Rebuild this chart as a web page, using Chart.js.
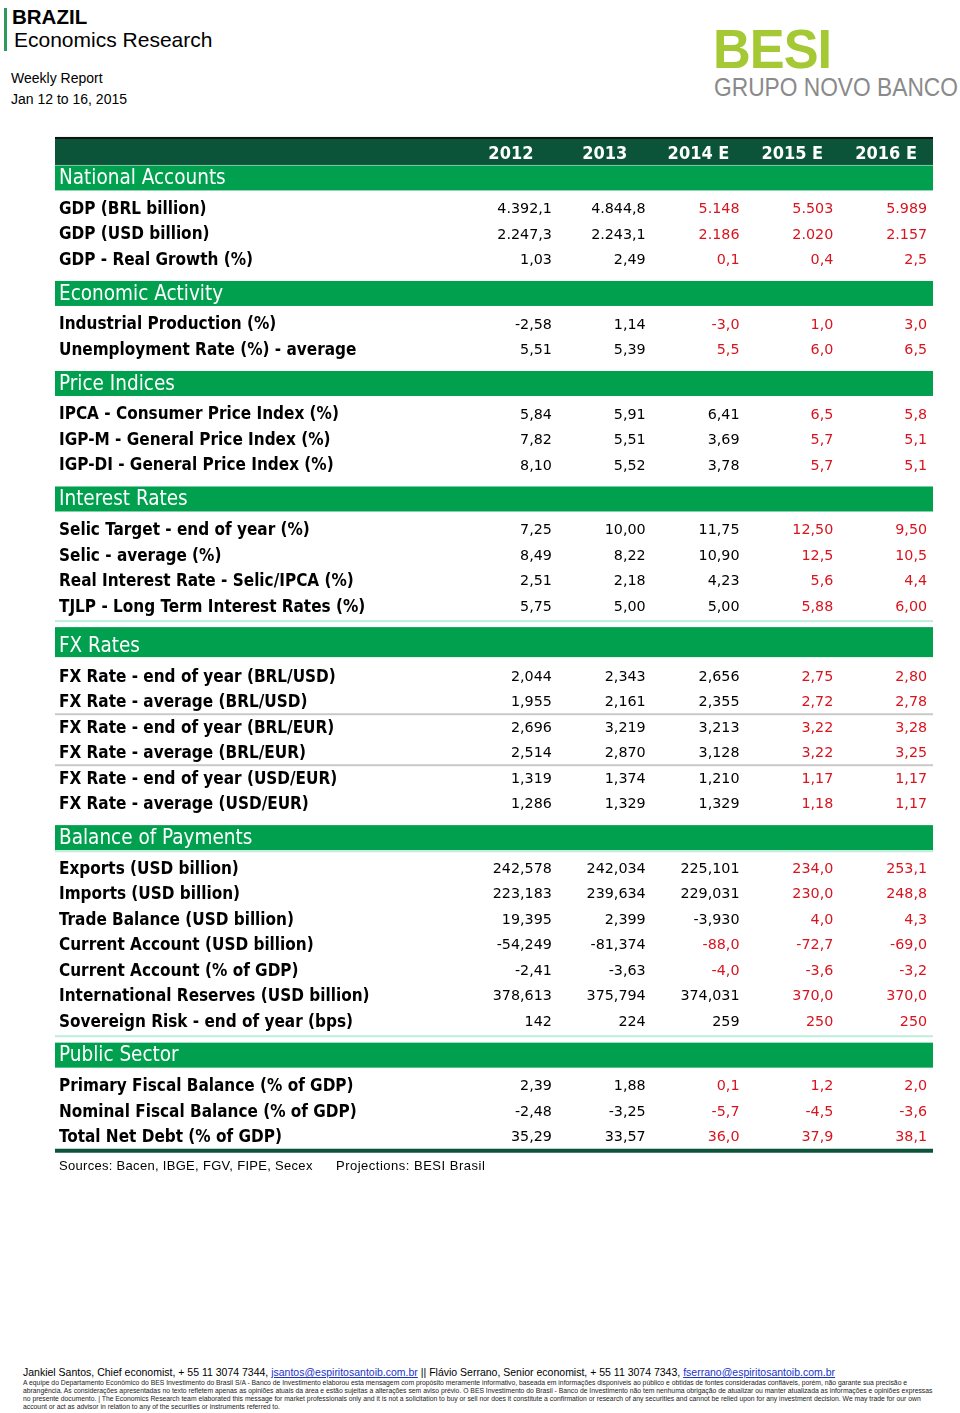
<!DOCTYPE html>
<html>
<head>
<meta charset="utf-8">
<script src="https://cdn.jsdelivr.net/npm/chart.js@4/dist/chart.umd.min.js"></script>
<style>
  body { margin: 0; width: 960px; height: 1413px; background: #fff; position: relative; overflow: hidden; font-family: "Liberation Sans", Arial, sans-serif; color: #000; }
  .abs { position: absolute; white-space: nowrap; }
  #bar { left: 4px; top: 8px; width: 3px; height: 43px; background: #2e9a5c; }
  #brazil { left: 12px; top: 5px; font-size: 20.5px; font-weight: bold; }
  #econ { left: 14px; top: 28px; font-size: 21px; }
  #weekly { left: 11px; top: 70px; font-size: 14px; }
  #dates { left: 11px; top: 91px; font-size: 14px; }
  #besi { left: 713px; top: 17px; font-size: 55px; font-weight: bold; color: #a5c835; transform: scaleX(0.95); transform-origin: left top; letter-spacing: -1px; }
  #grupo { left: 714px; top: 72px; font-size: 26px; color: #8a8a8a; transform: scaleX(0.875); transform-origin: left top; }
  #tableBox { left: 55px; top: 130px; width: 878px; height: 1030px; }
  #sources { left: 59px; top: 1158px; font-size: 13px; letter-spacing: 0.3px; }
  #proj { left: 336px; top: 1158px; font-size: 13px; letter-spacing: 0.5px; }
  #contact { left: 23px; top: 1366px; font-size: 10.5px; }
  #contact a { color: #1a33c8; text-decoration: underline; }
  #disc { left: 23px; top: 1379px; font-size: 6.8px; line-height: 8px; color: #222; }
</style>
</head>
<body>
<div class="abs" id="bar"></div>
<div class="abs" id="brazil">BRAZIL</div>
<div class="abs" id="econ">Economics Research</div>
<div class="abs" id="weekly">Weekly Report</div>
<div class="abs" id="dates">Jan 12 to 16, 2015</div>
<div class="abs" id="besi">BESI</div>
<div class="abs" id="grupo">GRUPO NOVO BANCO</div>

<div class="abs" id="tableBox"><canvas id="table"></canvas></div>

<div class="abs" id="sources">Sources: Bacen, IBGE, FGV, FIPE, Secex</div>
<div class="abs" id="proj">Projections: BESI Brasil</div>

<div class="abs" id="contact">Jankiel Santos, Chief economist, + 55 11 3074 7344, <a>jsantos@espiritosantoib.com.br</a> || Flávio Serrano, Senior economist, + 55 11 3074 7343, <a>fserrano@espiritosantoib.com.br</a></div>
<div class="abs" id="disc">A equipe do Departamento Econômico do BES Investimento do Brasil S/A - Banco de Investimento elaborou esta mensagem com propósito meramente informativo, baseada em informações disponíveis ao público e obtidas de fontes consideradas confiáveis, porém, não garante sua precisão e<br>abrangência. As considerações apresentadas no texto refletem apenas as opiniões atuais da área e estão sujeitas a alterações sem aviso prévio. O BES Investimento do Brasil - Banco de Investimento não tem nenhuma obrigação de atualizar ou manter atualizada as informações e opiniões expressas<br>no presente documento. | The Economics Research team elaborated this message for market professionals only and it is not a solicitation to buy or sell nor does it constitute a confirmation or research of any securities and cannot be relied upon for any investment decision. We may trade for our own<br>account or act as advisor in relation to any of the securities or instruments referred to.</div>

<script>
const years = ['2012', '2013', '2014 E', '2015 E', '2016 E']

// each section: row labels, values as printed, first column shown in red (forecast)
const nationalLabels = ['GDP (BRL billion)', 'GDP (USD billion)', 'GDP - Real Growth (%)']
const nationalValues = [
  ['4.392,1', '4.844,8', '5.148', '5.503', '5.989'],
  ['2.247,3', '2.243,1', '2.186', '2.020', '2.157'],
  ['1,03', '2,49', '0,1', '0,4', '2,5']]
const nationalRedFrom = [2, 2, 2]

const activityLabels = ['Industrial Production (%)', 'Unemployment Rate (%) - average']
const activityValues = [
  ['-2,58', '1,14', '-3,0', '1,0', '3,0'],
  ['5,51', '5,39', '5,5', '6,0', '6,5']]
const activityRedFrom = [2, 2]

const priceLabels = ['IPCA - Consumer Price Index (%)', 'IGP-M - General Price Index (%)', 'IGP-DI - General Price Index (%)']
const priceValues = [
  ['5,84', '5,91', '6,41', '6,5', '5,8'],
  ['7,82', '5,51', '3,69', '5,7', '5,1'],
  ['8,10', '5,52', '3,78', '5,7', '5,1']]
const priceRedFrom = [3, 3, 3]

const interestLabels = ['Selic Target - end of year (%)', 'Selic - average (%)', 'Real Interest Rate - Selic/IPCA (%)', 'TJLP - Long Term Interest Rates (%)']
const interestValues = [
  ['7,25', '10,00', '11,75', '12,50', '9,50'],
  ['8,49', '8,22', '10,90', '12,5', '10,5'],
  ['2,51', '2,18', '4,23', '5,6', '4,4'],
  ['5,75', '5,00', '5,00', '5,88', '6,00']]
const interestRedFrom = [3, 3, 3, 3]

const fxLabels = ['FX Rate - end of year (BRL/USD)', 'FX Rate - average (BRL/USD)', 'FX Rate - end of year (BRL/EUR)', 'FX Rate - average (BRL/EUR)', 'FX Rate - end of year (USD/EUR)', 'FX Rate - average (USD/EUR)']
const fxValues = [
  ['2,044', '2,343', '2,656', '2,75', '2,80'],
  ['1,955', '2,161', '2,355', '2,72', '2,78'],
  ['2,696', '3,219', '3,213', '3,22', '3,28'],
  ['2,514', '2,870', '3,128', '3,22', '3,25'],
  ['1,319', '1,374', '1,210', '1,17', '1,17'],
  ['1,286', '1,329', '1,329', '1,18', '1,17']]
const fxRedFrom = [3, 3, 3, 3, 3, 3]

const bopLabels = ['Exports (USD billion)', 'Imports (USD billion)', 'Trade Balance (USD billion)', 'Current Account (USD billion)', 'Current Account (% of GDP)', 'International Reserves (USD billion)', 'Sovereign Risk - end of year (bps)']
const bopValues = [
  ['242,578', '242,034', '225,101', '234,0', '253,1'],
  ['223,183', '239,634', '229,031', '230,0', '248,8'],
  ['19,395', '2,399', '-3,930', '4,0', '4,3'],
  ['-54,249', '-81,374', '-88,0', '-72,7', '-69,0'],
  ['-2,41', '-3,63', '-4,0', '-3,6', '-3,2'],
  ['378,613', '375,794', '374,031', '370,0', '370,0'],
  ['142', '224', '259', '250', '250']]
const bopRedFrom = [3, 3, 3, 2, 2, 3, 3]

const publicLabels = ['Primary Fiscal Balance (% of GDP)', 'Nominal Fiscal Balance (% of GDP)', 'Total Net Debt (% of GDP)']
const publicValues = [
  ['2,39', '1,88', '0,1', '1,2', '2,0'],
  ['-2,48', '-3,25', '-5,7', '-4,5', '-3,6'],
  ['35,29', '33,57', '36,0', '37,9', '38,1']]
const publicRedFrom = [2, 2, 2]

const sectionTitles = ['National Accounts', 'Economic Activity', 'Price Indices', 'Interest Rates', 'FX Rates', 'Balance of Payments', 'Public Sector']
const sectionLabels = [nationalLabels, activityLabels, priceLabels, interestLabels, fxLabels, bopLabels, publicLabels]
const sectionValues = [nationalValues, activityValues, priceValues, interestValues, fxValues, bopValues, publicValues]
const sectionRedFrom = [nationalRedFrom, activityRedFrom, priceRedFrom, interestRedFrom, fxRedFrom, bopRedFrom, publicRedFrom]

// ---- layout (row units on the y scale) ----
const PITCH = 25.5
let rows = []      // {kind, pos, ...}
let pos = 0
rows.push({kind: 'head', pos: 0})
sectionTitles.forEach((t, s) => {
  let tall = t == 'FX Rates'
  if (s == 0) pos += 0.98
  else pos += tall ? 1.57 : 1.33
  rows.push({kind: 'band', pos: pos, text: t, tall: tall})
  pos += tall ? 1.18 : 1.2
  sectionLabels[s].forEach((lab, r) => {
    if (r > 0) pos += 1
    rows.push({kind: 'row', pos: pos, text: lab, vals: sectionValues[s][r], redFrom: sectionRedFrom[s][r], sec: t, idx: r})
  })
})
const Y_MIN = -0.9
const Y_MAX = Y_MIN + 1030 / PITCH

const dataRows = rows.filter(r => r.kind == 'row')
const cellData = []
dataRows.forEach(r => r.vals.forEach((v, c) => cellData.push({x: years[c], y: r.pos, text: v, red: c >= r.redFrom})))

const DARK = '#0b5439'
const GREEN = '#00a04f'
const RED = '#d8141f'
const labelFont = 'bold 17px "DejaVu Sans Condensed", "DejaVu Sans", sans-serif'
const valueFont = '14.3px "DejaVu Sans", sans-serif'

const tablePlugin = {
  id: 'tablePlugin',
  beforeDatasetsDraw(chart) {
    const ctx = chart.ctx
    const ys = chart.scales.y
    const W = chart.width
    ctx.save()
    rows.forEach(r => {
      const yc = ys.getPixelForValue(r.pos)
      if (r.kind == 'head') {
        ctx.fillStyle = DARK
        ctx.fillRect(0, yc - 15, W, 27)
        ctx.fillStyle = '#111'
        ctx.fillRect(0, yc - 16, W, 2)
      } else if (r.kind == 'band') {
        ctx.fillStyle = GREEN
        if (r.tall) ctx.fillRect(0, yc - 19, W, 30)
        else ctx.fillRect(0, yc - 12.5, W, 25)
      }
    })
    // thin separators
    dataRows.forEach((r, i) => {
      const yc = ys.getPixelForValue(r.pos)
      if (r.sec == 'FX Rates' && (r.idx == 1 || r.idx == 3)) {
        ctx.fillStyle = '#c9c9c9'
        ctx.fillRect(0, yc + 11.5, W, 2)
      }
      if ((r.sec == 'Interest Rates' && r.idx == 3) || (r.sec == 'Balance of Payments' && r.idx == 6)) {
        ctx.fillStyle = '#bdeedd'
        ctx.fillRect(0, yc + 14, W, 2)
      }
      if (r.sec == 'Balance of Payments' && r.idx == 0) {
        ctx.fillStyle = '#bdeedd'
        ctx.fillRect(0, yc - 18, W, 2)
      }
    })
    const last = dataRows[dataRows.length - 1]
    const yl = ys.getPixelForValue(last.pos)
    ctx.fillStyle = DARK
    ctx.fillRect(0, yl + 12, W, 4)
    ctx.restore()
  },
  afterDatasetsDraw(chart) {
    const ctx = chart.ctx
    const ys = chart.scales.y
    const xs = chart.scales.x
    ctx.save()
    ctx.textBaseline = 'middle'
    rows.forEach(r => {
      const yc = ys.getPixelForValue(r.pos)
      if (r.kind == 'head') {
        ctx.fillStyle = '#fff'
        ctx.font = 'bold 18px "DejaVu Sans Condensed", "DejaVu Sans", sans-serif'
        ctx.textAlign = 'center'
        years.forEach((y, i) => ctx.fillText(y, xs.getPixelForValue(i) + 3, yc + 1))
      } else if (r.kind == 'band') {
        ctx.fillStyle = '#fff'
        ctx.font = '20.5px "DejaVu Sans Condensed", "DejaVu Sans", sans-serif'
        ctx.textAlign = 'left'
        ctx.fillText(r.text, 4, yc + 1)
      } else {
        ctx.fillStyle = '#000'
        ctx.font = labelFont
        ctx.textAlign = 'left'
        ctx.fillText(r.text, 4, yc + 1)
      }
    })
    // the cell values sit on the dataset points
    const meta = chart.getDatasetMeta(0)
    ctx.font = valueFont
    ctx.textAlign = 'right'
    meta.data.forEach((pt, i) => {
      const cell = cellData[i]
      ctx.fillStyle = cell.red ? RED : '#000'
      ctx.fillText(cell.text, pt.x + 44, pt.y + 1)
    })
    ctx.restore()
  }
}

new Chart(document.getElementById('table'), {
  type: 'line',
  data: {
    labels: years,
    datasets: [{
      data: cellData.map(c => ({x: c.x, y: c.y})),
      showLine: false,
      pointRadius: 0,
      pointHoverRadius: 0
    }]
  },
  options: {
    responsive: true,
    maintainAspectRatio: false,
    animation: false,
    devicePixelRatio: 1,
    layout: { padding: { left: 406, right: 3, top: 0, bottom: 0 } },
    plugins: { legend: { display: false }, tooltip: { enabled: false } },
    events: [],
    scales: {
      x: { type: 'category', offset: true, display: false },
      y: { type: 'linear', reverse: true, min: Y_MIN, max: Y_MAX, display: false }
    }
  },
  plugins: [tablePlugin]
})
</script>
</body>
</html>
